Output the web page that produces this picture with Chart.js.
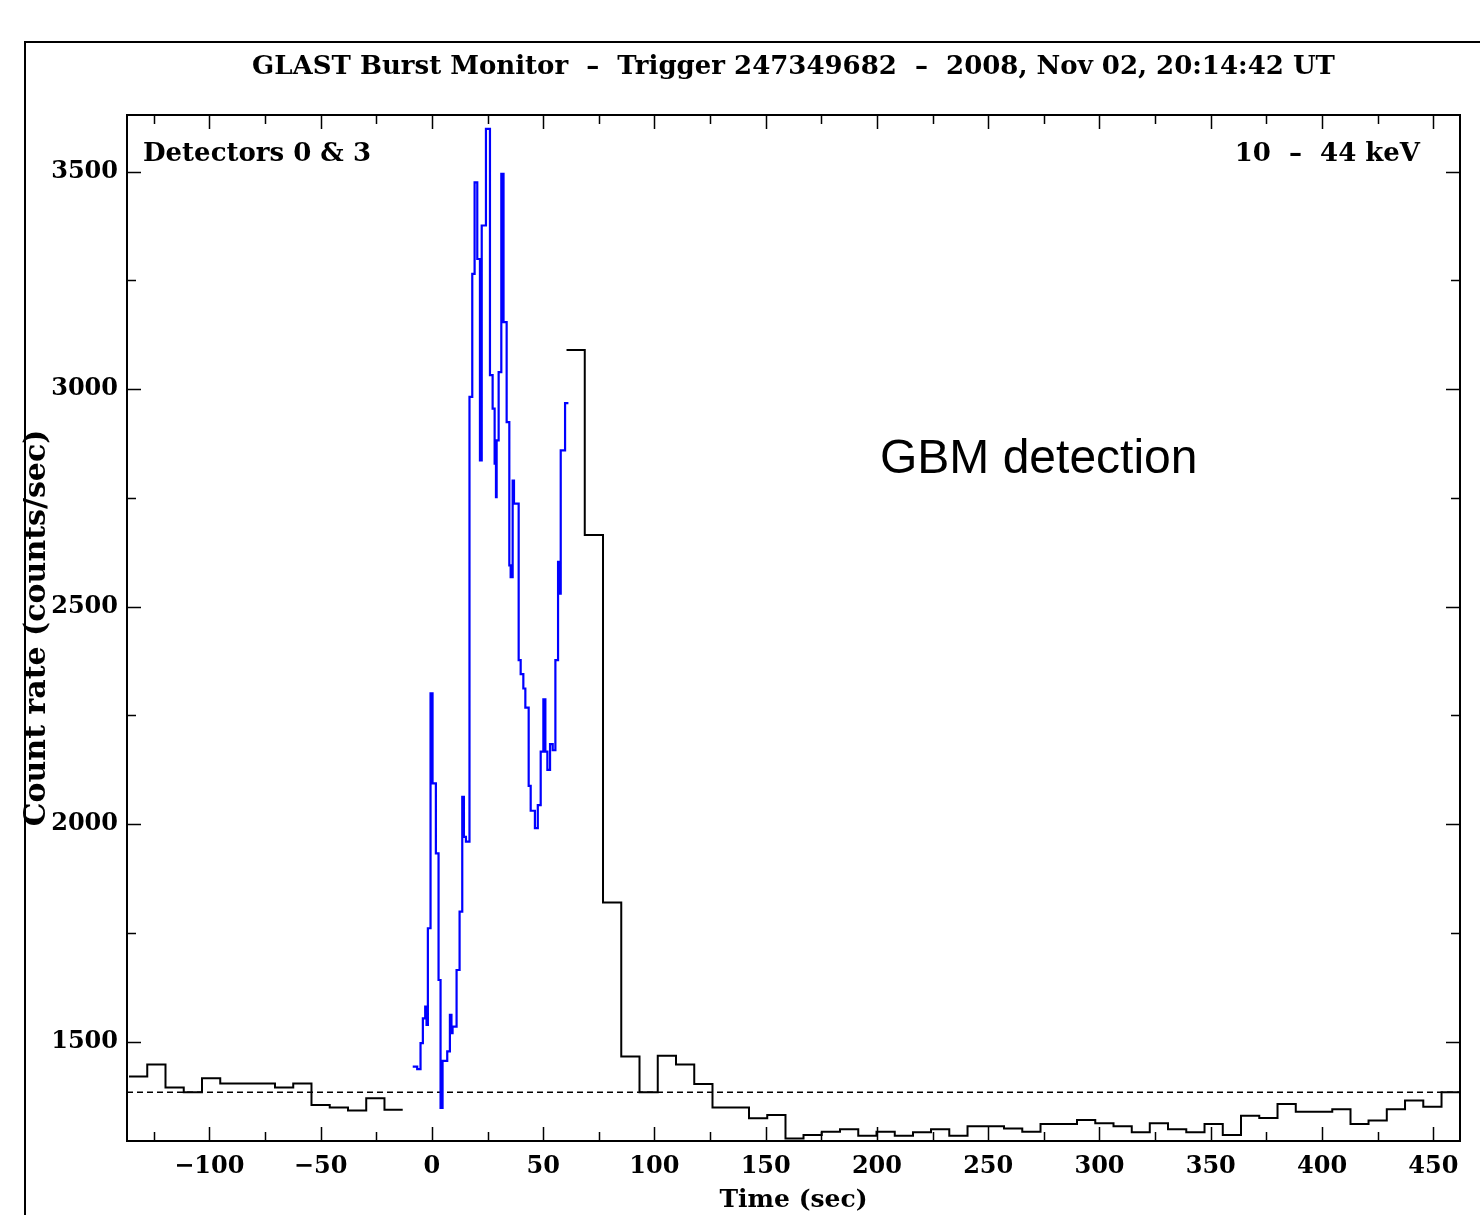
<!DOCTYPE html>
<html>
<head>
<meta charset="utf-8">
<title>GBM trigger 247349682</title>
<script src="https://cdn.jsdelivr.net/npm/chart.js@4.4.1/dist/chart.umd.min.js"></script>
<style>
  html, body { margin: 0; padding: 0; background: #fff; }
  #wrap { position: relative; width: 1480px; height: 1215px; overflow: hidden; }
</style>
</head>
<body>
<div id="wrap"><canvas id="lc" width="1480" height="1215"></canvas></div>
<script>
// axis ticks
const timeTicks = [-100, -50, 0, 50, 100, 150, 200, 250, 300, 350, 400, 450];
const rateTicks = [1500, 2000, 2500, 3000, 3500];
const background = 1384;

// 8 s bins before the trigger (bin start, rate)
const preTimes = [-136.1, -127.9, -119.7, -111.5, -103.3, -95.1, -86.9, -78.7, -70.5, -62.3, -54.1, -45.9, -37.7, -29.5, -21.3];
const preRates = [1420, 1448, 1395, 1384, 1416, 1404, 1404, 1404, 1395, 1404, 1355, 1349, 1342, 1370, 1344];
const preEnd = -13.1;

// 8 s bins after the fine-resolution stretch
const postTimes = [60.5, 68.7, 76.9, 85.1, 93.3, 101.5, 109.7, 117.9, 126.1, 134.3, 142.5, 150.7, 158.9, 167.0, 175.2, 183.4,
  191.6, 199.8, 208.0, 216.2, 224.3, 232.5, 240.7, 248.9, 257.1, 265.3, 273.5, 281.7, 289.9, 298.1, 306.3, 314.5, 322.6,
  330.8, 339.0, 347.2, 355.4, 363.6, 371.8, 380.0, 388.2, 396.4, 404.6, 412.8, 420.9, 429.1, 437.3, 445.5, 453.7];
const postRates = [3090, 2665, 1820, 1466, 1384, 1468, 1448, 1403, 1349, 1349, 1324, 1332, 1278, 1286, 1293, 1299,
  1284, 1293, 1284, 1292, 1299, 1284, 1306, 1306, 1301, 1293, 1311, 1311, 1320, 1313, 1306, 1292, 1313,
  1299, 1292, 1311, 1286, 1330, 1325, 1357, 1339, 1339, 1345, 1311, 1319, 1345, 1365, 1351, 1384];
const postEnd = 463;

// fine bins around the burst (blue)
const blueTimes = [-8.6, -6.6, -5.1, -4.05, -3.0, -2.4, -1.8, -0.6, 0.3, 1.8, 3.0, 3.9, 4.8, 6.9, 8.1, 8.8, 9.3, 11.1,
  12.45, 13.65, 14.4, 15.3, 16.9, 18.15, 19.2, 20.4, 21.6, 22.4, 24.3, 26.1, 27.3, 28.2, 28.8, 29.1, 30.0, 31.2, 32.2,
  33.6, 34.8, 35.4, 36.3, 36.9, 39.0, 39.9, 41.1, 42.0, 43.5, 44.4, 46.3, 47.6, 48.9, 50.1, 51.0, 51.9, 53.1, 54.3,
  55.5, 56.7, 57.3, 57.9, 59.85];
const blueRates = [1443, 1437, 1497, 1554, 1581, 1539, 1761, 2301, 2094, 1933, 1642, 1348, 1456, 1478, 1562, 1520, 1535, 1665,
  1799, 2063, 1971, 1960, 2982, 3265, 3475, 3299, 2836, 3376, 3598, 3032, 2955, 2829, 2752, 2882, 3039, 3495, 3154,
  2924, 2595, 2568, 2790, 2737, 2377, 2345, 2312, 2268, 2088, 2031, 1991, 2044, 2167, 2287, 2167, 2125, 2184, 2170,
  2377, 2603, 2530, 2859, 2968];
const blueEnd = 61.35;

const X_MIN = -137, X_MAX = 462;
const Y_MIN = 1272, Y_MAX = 3630;

function steps(times, rates, end) {
  const pts = times.map((t, i) => ({ x: t, y: rates[i] }));
  pts.push({ x: end, y: rates[rates.length - 1] });
  return pts;
}

const serif = "'DejaVu Serif', serif";
const tickFont = { family: serif, size: 24, weight: 'bold' };

const decorations = {
  id: 'decorations',
  afterDraw(chart) {
    const { ctx, chartArea: a, scales: { x, y } } = chart;
    ctx.save();
    ctx.strokeStyle = '#000';
    ctx.lineWidth = 2;
    // outer frame
    ctx.beginPath();
    ctx.moveTo(25, 1215); ctx.lineTo(25, 42); ctx.lineTo(1480, 42);
    ctx.stroke();
    // plot box
    ctx.strokeRect(a.left, a.top, a.right - a.left, a.bottom - a.top);

    // tick marks, pointing inwards
    ctx.lineWidth = 1.5;
    ctx.beginPath();
    for (let v = -125; v <= 450; v += 25) {
      const px = Math.round(x.getPixelForValue(v)) + 0.5;
      const len = v % 50 === 0 ? 14 : 9;
      ctx.moveTo(px, a.bottom); ctx.lineTo(px, a.bottom - len);
      ctx.moveTo(px, a.top); ctx.lineTo(px, a.top + len);
    }
    for (let v = 1500; v <= 3500; v += 250) {
      const py = Math.round(y.getPixelForValue(v)) + 0.5;
      const len = v % 500 === 0 ? 14 : 9;
      ctx.moveTo(a.left, py); ctx.lineTo(a.left + len, py);
      ctx.moveTo(a.right, py); ctx.lineTo(a.right - len, py);
    }
    ctx.stroke();

    ctx.fillStyle = '#000';
    ctx.textBaseline = 'middle';
    ctx.font = 'bold 26px ' + serif;
    ctx.textAlign = 'center';
    ctx.fillText('GLAST Burst Monitor  \u2013  Trigger 247349682  \u2013  2008, Nov 02, 20:14:42 UT', (a.left + a.right) / 2, 67);
    ctx.textAlign = 'left';
    ctx.fillText('Detectors 0 & 3', a.left + 16, 154);
    ctx.textAlign = 'right';
    ctx.fillText('10  \u2013  44 keV', a.right - 40, 154);

    ctx.font = "48px 'Liberation Sans', Arial, sans-serif";
    ctx.textAlign = 'left';
    ctx.fillText('GBM detection', 880, 460);
    ctx.restore();
  }
};

const ctx = document.getElementById('lc').getContext('2d');
new Chart(ctx, {
  type: 'line',
  data: {
    datasets: [
      { data: steps(blueTimes, blueRates, blueEnd), borderColor: '#0000ff', borderWidth: 2.2, stepped: true, order: 0 },
      { data: steps(preTimes, preRates, preEnd), borderColor: '#000', borderWidth: 2, stepped: true, order: 1 },
      { data: steps(postTimes, postRates, postEnd), borderColor: '#000', borderWidth: 2, stepped: true, order: 1 },
      { data: [{ x: X_MIN, y: background }, { x: X_MAX, y: background }], borderColor: '#000', borderWidth: 1.5,
        borderDash: [6, 4], order: 2 }
    ]
  },
  options: {
    responsive: false,
    animation: false,
    devicePixelRatio: 1,
    elements: { point: { radius: 0 }, line: { fill: false, tension: 0 } },
    layout: { padding: { left: 0, top: 115, right: 20, bottom: 0 } },
    plugins: { legend: { display: false }, tooltip: { enabled: false } },
    scales: {
      x: {
        type: 'linear', min: X_MIN, max: X_MAX,
        afterBuildTicks: s => { s.ticks = timeTicks.map(v => ({ value: v })); },
        afterFit: s => { s.height = 74; },
        grid: { display: false, drawTicks: false }, border: { display: false },
        ticks: {
          font: tickFont, color: '#000', padding: 11, maxRotation: 0, autoSkip: false,
          callback: v => (v < 0 ? '\u2212' + Math.abs(v) : String(v))
        },
        title: { display: true, text: 'Time (sec)', font: { family: serif, size: 25, weight: 'bold' }, color: '#000',
          padding: { top: 0, bottom: 0 } }
      },
      y: {
        type: 'linear', min: Y_MIN, max: Y_MAX,
        afterBuildTicks: s => { s.ticks = rateTicks.map(v => ({ value: v })); },
        afterFit: s => { s.width = 127; },
        grid: { display: false, drawTicks: false }, border: { display: false },
        ticks: { font: tickFont, color: '#000', padding: 9, autoSkip: false, callback: v => String(v) },
        title: { display: true, text: 'Count rate (counts/sec)', font: { family: serif, size: 30, weight: 'bold' }, color: '#000',
          padding: { top: 19, bottom: 0 } }
      }
    }
  },
  plugins: [decorations]
});
</script>
</body>
</html>
